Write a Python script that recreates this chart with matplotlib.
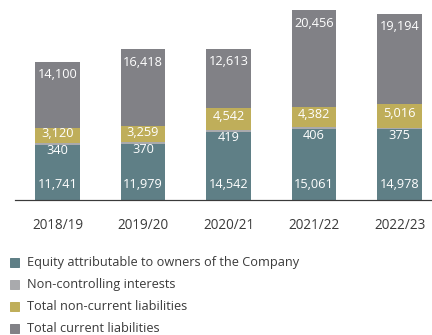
import matplotlib.pyplot as plt
from matplotlib.lines import Line2D

# balance sheet composition, HK$ million
years = ['2018/19', '2019/20', '2020/21', '2021/22', '2022/23']
equity = [11741, 11979, 14542, 15061, 14978]
non_controlling = [340, 370, 419, 406, 375]
non_current = [3120, 3259, 4542, 4382, 5016]
current = [14100, 16418, 12613, 20456, 19194]

names = ['Equity attributable to owners of the Company',
         'Non-controlling interests',
         'Total non-current liabilities',
         'Total current liabilities']
colors = ['#5f7f86', '#a9aaad', '#bfae5a', '#818186']

plt.rcParams['font.family'] = ['Open Sans', 'DejaVu Sans']

fig = plt.figure(figsize=(432 / 72, 335 / 72), dpi=72)
ax = fig.add_axes([15 / 432, 135 / 335, 417 / 432, 200 / 335])

x = list(range(len(years)))
w = 0.526
b1 = [e + n for e, n in zip(equity, non_controlling)]
b2 = [a + c for a, c in zip(b1, non_current)]

ax.bar(x, equity, w, color=colors[0])
ax.bar(x, non_controlling, w, bottom=equity, color=colors[1])
ax.bar(x, non_current, w, bottom=b1, color=colors[2])
ax.bar(x, current, w, bottom=b2, color=colors[3])

fs = 12.8
for i in x:
    top = b2[i] + current[i]
    ax.annotate(f'{equity[i]:,}', (i, 0), xytext=(0, 15), textcoords='offset points',
                ha='center', va='center', color='white', fontsize=fs)
    ax.annotate(f'{non_controlling[i]:,}', (i, equity[i]), xytext=(0, -6),
                textcoords='offset points', ha='center', va='center',
                color='white', fontsize=fs)
    ax.annotate(f'{non_current[i]:,}', (i, b1[i] + non_current[i] / 2), xytext=(0, 2),
                textcoords='offset points', ha='center', va='center',
                color='white', fontsize=fs)
    ax.annotate(f'{current[i]:,}', (i, top), xytext=(0, -13), textcoords='offset points',
                ha='center', va='center', color='white', fontsize=fs)

ax.set_xlim(-0.497, 4.38)
ax.set_ylim(0, 42460)
for s in ['top', 'right', 'left']:
    ax.spines[s].set_visible(False)
ax.spines['bottom'].set_color('#3a3a3a')
ax.spines['bottom'].set_linewidth(1.2)
ax.set_yticks([])
ax.set_xticks(x)
ax.set_xticklabels(years, fontsize=13.5, color='#3a3a3a')
ax.tick_params(axis='x', length=0, pad=18)

handles = [Line2D([], [], marker='s', linestyle='none', markersize=9,
                  markerfacecolor=c, markeredgecolor=c) for c in colors]
fig.legend(handles, names, loc='upper left', bbox_to_anchor=(8 / 432, 1 - 256 / 335),
           frameon=False, fontsize=12.7, labelcolor='#3a3a3a', handlelength=1.0,
           handletextpad=0.5, labelspacing=0.72, borderpad=0, borderaxespad=0)

fig.savefig('out.png', dpi=72)
